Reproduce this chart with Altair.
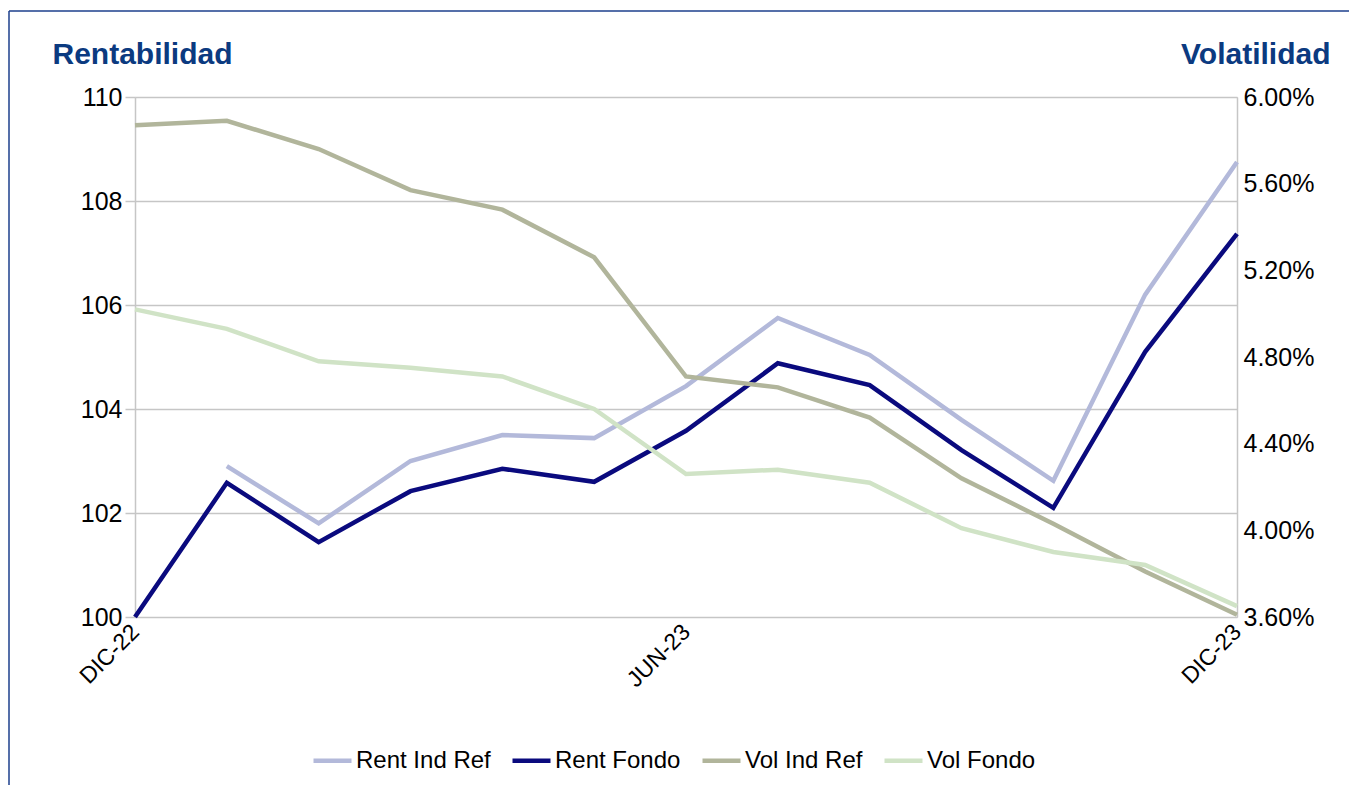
import altair as alt
import pandas as pd

months = ["DIC-22", "ENE-23", "FEB-23", "MAR-23", "ABR-23", "MAY-23", "JUN-23",
          "JUL-23", "AGO-23", "SEP-23", "OCT-23", "NOV-23", "DIC-23"]
rent_ind_ref = [None, 102.90, 101.80, 103.00, 103.50, 103.44, 104.44,
                105.75, 105.04, 103.79, 102.62, 106.20, 108.75]
rent_fondo = [100.00, 102.58, 101.44, 102.42, 102.85, 102.60, 103.58,
              104.88, 104.46, 103.21, 102.10, 105.10, 107.37]
vol_ind_ref = [5.87, 5.89, 5.76, 5.57, 5.48, 5.26, 4.71,
               4.66, 4.52, 4.24, 4.03, 3.81, 3.61]
vol_fondo = [5.02, 4.93, 4.78, 4.75, 4.71, 4.56, 4.26,
             4.28, 4.22, 4.01, 3.90, 3.84, 3.65]

series_names = ["Rent Ind Ref", "Rent Fondo", "Vol Ind Ref", "Vol Fondo"]
series_colors = ["#b3b9da", "#0a0a7e", "#b1b59b", "#d0e3c6"]

rent_rows = []
for name, vals in [("Rent Ind Ref", rent_ind_ref), ("Rent Fondo", rent_fondo)]:
    for m, v in zip(months, vals):
        rent_rows.append({"mes": m, "serie": name, "valor": v})
vol_rows = []
for name, vals in [("Vol Ind Ref", vol_ind_ref), ("Vol Fondo", vol_fondo)]:
    for m, v in zip(months, vals):
        vol_rows.append({"mes": m, "serie": name, "valor": v / 100})

rent_df = pd.DataFrame(rent_rows)
vol_df = pd.DataFrame(vol_rows)

FONT = "Liberation Sans"
TITLE_COLOR = "#0b3a80"
GRID = "#c6c6c6"

x_enc = alt.X(
    "mes:N",
    sort=months,
    scale=alt.Scale(type="point", padding=0),
    axis=alt.Axis(
        values=["DIC-22", "JUN-23", "DIC-23"],
        labelAngle=315,
        labelAlign="right",
        labelBaseline="middle",
        labelPadding=11,
        labelFontSize=23,
        labelFont=FONT,
        labelColor="#000000",
        ticks=False,
        domain=False,
        grid=False,
        title=None,
    ),
)

color_enc = alt.Color(
    "serie:N",
    scale=alt.Scale(domain=series_names, range=series_colors),
    sort=series_names,
    legend=alt.Legend(
        orient="none",
        legendX=176,
        legendY=642,
        direction="horizontal",
        title=None,
        symbolType="stroke",
        symbolStrokeWidth=4.5,
        symbolSize=1444,
        labelFontSize=24,
        labelFont=FONT,
        labelColor="#000000",
        columnPadding=12,
        labelOffset=2,
        labelLimit=400,
    ),
)

rent = alt.Chart(rent_df).mark_line(strokeWidth=4.5).encode(
    x=x_enc,
    y=alt.Y(
        "valor:Q",
        scale=alt.Scale(domain=[100, 110], nice=False, zero=False),
        axis=alt.Axis(
            values=[100, 102, 104, 106, 108, 110],
            format="d",
            orient="left",
            grid=True,
            gridColor=GRID,
            gridWidth=1.5,
            domainColor=GRID,
            domainWidth=1.5,
            tickColor=GRID,
            tickWidth=1.5,
            tickSize=10,
            labelPadding=3,
            labelFontSize=25,
            labelFont=FONT,
            labelColor="#000000",
            title="Rentabilidad",
            titleAngle=0,
            titleAlign="left",
            titleBaseline="alphabetic",
            titleX=-83,
            titleY=-34,
            titleFontSize=30,
            titleFontWeight="bold",
            titleFont=FONT,
            titleColor=TITLE_COLOR,
        ),
    ),
    color=color_enc,
)

vol = alt.Chart(vol_df).mark_line(strokeWidth=4.5).encode(
    x=x_enc,
    y=alt.Y(
        "valor:Q",
        scale=alt.Scale(domain=[0.036, 0.06], nice=False, zero=False),
        axis=alt.Axis(
            values=[0.036, 0.04, 0.044, 0.048, 0.052, 0.056, 0.06],
            format=".2%",
            orient="right",
            grid=False,
            domainColor=GRID,
            domainWidth=1.5,
            ticks=False,
            labelPadding=6,
            labelFontSize=25,
            labelFont=FONT,
            labelColor="#000000",
            title="Volatilidad",
            titleAngle=0,
            titleAlign="right",
            titleBaseline="alphabetic",
            titleX=93,
            titleY=-34,
            titleFontSize=30,
            titleFontWeight="bold",
            titleFont=FONT,
            titleColor=TITLE_COLOR,
        ),
    ),
    color=color_enc,
)

frame_data = alt.Data(values=[{"k": 1}])
frame_left = alt.Chart(frame_data).mark_rule(color="#1c3f8c", strokeWidth=1.5).encode(
    x=alt.value(-126), y=alt.value(-86), y2=alt.value(700)
)
frame_top = alt.Chart(frame_data).mark_rule(color="#1c3f8c", strokeWidth=1.5).encode(
    x=alt.value(-126), x2=alt.value(1214), y=alt.value(-86)
)

chart = (
    alt.layer(rent, vol, frame_left, frame_top)
    .resolve_scale(y="independent")
    .properties(
        width=1102,
        height=520,
        autosize=alt.AutoSizeParams(type="none"),
        padding={"left": 127, "top": 89, "right": 112, "bottom": 168},
    )
    .configure_view(stroke=None)
    .configure(background="#ffffff")
)

chart.save("out.html", embed_options={"renderer": "svg", "actions": False})
